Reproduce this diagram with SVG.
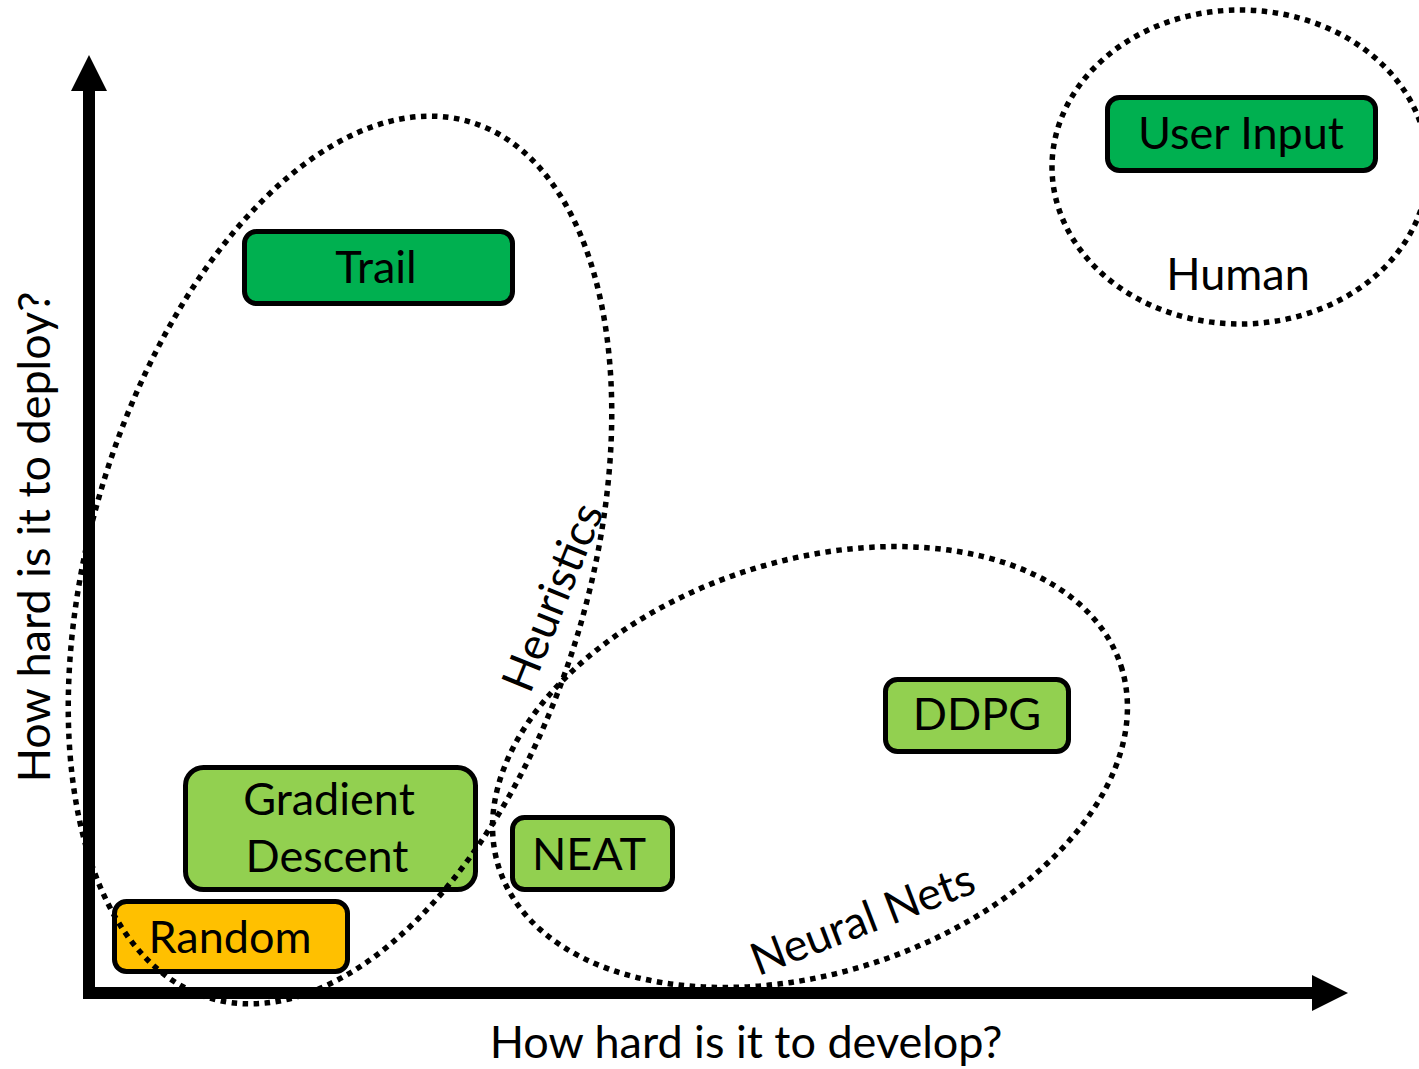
<svg xmlns="http://www.w3.org/2000/svg" width="1419" height="1069" viewBox="0 0 1419 1069">
<style>
  text { font-family: Lato, "Liberation Sans", sans-serif; fill: #000; }
  .box { stroke: #000; stroke-width: 5; }
  .dk { fill: #00B050; }
  .lt { fill: #92D050; }
  .or { fill: #FFC000; }
  .lbl { font-size: 45px; text-anchor: middle; }
  .ax { font-size: 45px; text-anchor: middle; }
  .region { fill: none; stroke: #000; stroke-width: 5.5; stroke-dasharray: 5.5 5.5; }
  .axis { stroke: #000; stroke-width: 12; fill: none; }
</style>
<defs>
  <marker id="ah" markerUnits="userSpaceOnUse" markerWidth="36" markerHeight="36" refX="0" refY="18" orient="auto">
    <path d="M0,0 L36,18 L0,36 z" fill="#000"/>
  </marker>
</defs>
<g id="axes">
  <line class="axis" x1="89" y1="999" x2="89" y2="91" marker-end="url(#ah)"/>
  <line class="axis" x1="83" y1="993" x2="1312" y2="993" marker-end="url(#ah)"/>
  <text class="ax" x="746" y="1058">How hard is it to develop?</text>
  <text class="ax" transform="translate(50,537) rotate(-90)">How hard is it to deploy?</text>
</g>
<g id="node-trail">
  <rect class="box dk" x="244.5" y="231.5" width="268" height="72" rx="12"/>
  <text class="lbl" x="376" y="283">Trail</text>
</g>
<g id="node-userinput">
  <rect class="box dk" x="1107.5" y="97.5" width="268" height="73" rx="12"/>
  <text class="lbl" x="1241" y="149">User Input</text>
</g>
<g id="node-gradient">
  <rect class="box lt" x="185.5" y="767.5" width="290" height="122" rx="18"/>
  <text class="lbl" x="329" y="815">Gradient</text>
  <text class="lbl" x="327" y="872">Descent</text>
</g>
<g id="node-random">
  <rect class="box or" x="114.5" y="901.5" width="233" height="70" rx="12"/>
  <text class="lbl" x="230" y="953">Random</text>
</g>
<g id="node-neat">
  <rect class="box lt" x="512.5" y="817.5" width="160" height="72" rx="12"/>
  <text class="lbl" x="589" y="870">NEAT</text>
</g>
<g id="node-ddpg">
  <rect class="box lt" x="885.5" y="679.5" width="183" height="72" rx="12"/>
  <text class="lbl" x="977" y="730">DDPG</text>
</g>
<g id="regions">
  <g id="region-heuristics">
    <ellipse class="region" cx="340" cy="560" rx="249" ry="457" transform="rotate(16.5 340 560)"/>
    <text class="lbl" transform="translate(567,603) rotate(-68)">Heuristics</text>
  </g>
  <g id="region-neural">
    <ellipse class="region" cx="810" cy="767" rx="327" ry="206" transform="rotate(-18 810 767)"/>
    <text class="lbl" transform="translate(868,934) rotate(-21)">Neural Nets</text>
  </g>
  <g id="region-human">
    <ellipse class="region" cx="1240" cy="167" rx="188" ry="157"/>
    <text class="lbl" x="1238" y="290">Human</text>
  </g>
</g>
</svg>
